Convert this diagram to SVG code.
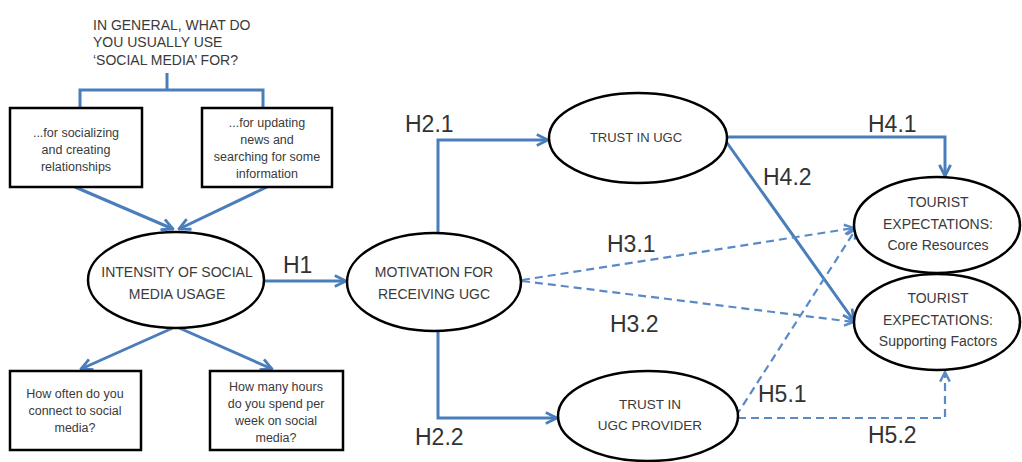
<svg xmlns="http://www.w3.org/2000/svg" width="1022" height="462" viewBox="0 0 1022 462">
<defs>
<style>
.bg{fill:#ffffff}
.node{fill:#ffffff;stroke:#000000;stroke-width:2.5}
.t{font-family:"Liberation Sans",Arial,sans-serif;fill:#3a3a3a;text-anchor:middle}
.e{font-size:14px}
.b{font-size:12.5px}
.title{font-family:"Liberation Sans",Arial,sans-serif;fill:#3a3a3a;font-size:14px}
.h{font-family:"Liberation Sans",Arial,sans-serif;fill:#333333;font-size:23px}
.c{fill:none;stroke:#4a7ebb;stroke-width:3;stroke-linejoin:miter}
.d{fill:none;stroke:#5a8ac6;stroke-width:2.2;stroke-dasharray:8,5}
</style>
<marker id="arr" viewBox="0 0 10 10" refX="9" refY="5" markerWidth="14" markerHeight="14" markerUnits="userSpaceOnUse" orient="auto">
<path d="M1,1 L9,5 L1,9" fill="none" stroke="#4a7ebb" stroke-width="2"/>
</marker>
<marker id="arrd" viewBox="0 0 10 10" refX="9" refY="5" markerWidth="12" markerHeight="12" markerUnits="userSpaceOnUse" orient="auto">
<path d="M1,1 L9,5 L1,9" fill="none" stroke="#5a8ac6" stroke-width="2"/>
</marker>
</defs>
<rect class="bg" x="0" y="0" width="1022" height="462"/>

<g id="connectors">
<path class="c" d="M167,73 V90 M80,108 V90 H263 V108"/>
<path class="c" d="M75,187 L173,229" marker-end="url(#arr)"/>
<path class="c" d="M267,187 L179,229" marker-end="url(#arr)"/>
<path class="c" d="M175,327 L81,369" marker-end="url(#arr)"/>
<path class="c" d="M177,327 L272,369" marker-end="url(#arr)"/>
<path class="c" d="M263,281 H346" marker-end="url(#arr)"/>
<path class="c" d="M438,233 V140 H548" marker-end="url(#arr)"/>
<path class="c" d="M438,331 V418 H557" marker-end="url(#arr)"/>
<path class="c" d="M727,137 H945 V176" marker-end="url(#arr)"/>
<path class="c" d="M725,140 L854,321" marker-end="url(#arr)"/>
<path class="d" d="M522,280 L854,228" marker-end="url(#arrd)"/>
<path class="d" d="M522,281 L854,322" marker-end="url(#arrd)"/>
<path class="d" d="M736,416 L856,229" marker-end="url(#arrd)"/>
<path class="d" d="M738,418 H945 V372" marker-end="url(#arrd)"/>
<text class="h" x="283" y="273">H1</text>
<text class="h" x="405" y="132">H2.1</text>
<text class="h" x="415" y="445">H2.2</text>
<text class="h" x="607" y="252">H3.1</text>
<text class="h" x="610" y="332">H3.2</text>
<text class="h" x="868" y="132">H4.1</text>
<text class="h" x="763" y="185">H4.2</text>
<text class="h" x="758" y="402">H5.1</text>
<text class="h" x="868" y="443">H5.2</text>
</g>

<g id="question">
<text class="title" x="93" y="30">IN GENERAL, WHAT DO</text>
<text class="title" x="93" y="47">YOU USUALLY USE</text>
<text class="title" x="93" y="65">‘SOCIAL MEDIA’ FOR?</text>
</g>

<g id="box-socializing">
<rect class="node" x="10" y="108" width="132" height="79"/>
<text class="t b" x="76" y="137">...for socializing</text>
<text class="t b" x="76" y="154">and creating</text>
<text class="t b" x="76" y="171">relationships</text>
</g>

<g id="box-updating">
<rect class="node" x="202" y="108" width="130" height="79"/>
<text class="t b" x="267" y="127">...for updating</text>
<text class="t b" x="267" y="144">news and</text>
<text class="t b" x="267" y="161">searching for some</text>
<text class="t b" x="267" y="178">information</text>
</g>

<g id="intensity">
<ellipse class="node" cx="176" cy="280" rx="88" ry="48"/>
<text class="t e" x="177" y="277">INTENSITY OF SOCIAL</text>
<text class="t e" x="177" y="299">MEDIA USAGE</text>
</g>

<g id="box-often">
<rect class="node" x="10" y="371" width="131" height="79"/>
<text class="t b" x="75" y="398">How often do you</text>
<text class="t b" x="75" y="415">connect to social</text>
<text class="t b" x="75" y="432">media?</text>
</g>

<g id="box-hours">
<rect class="node" x="210" y="371" width="133" height="79"/>
<text class="t b" x="276" y="391">How many hours</text>
<text class="t b" x="276" y="408">do you spend per</text>
<text class="t b" x="276" y="425">week on social</text>
<text class="t b" x="276" y="442">media?</text>
</g>

<g id="motivation">
<ellipse class="node" cx="434" cy="282" rx="87" ry="49"/>
<text class="t e" x="434" y="277">MOTIVATION FOR</text>
<text class="t e" x="434" y="299">RECEIVING UGC</text>
</g>

<g id="trust-ugc">
<ellipse class="node" cx="638" cy="138" rx="89" ry="45"/>
<text class="t" style="font-size:13px" x="636" y="142">TRUST IN UGC</text>
</g>

<g id="trust-provider">
<ellipse class="node" cx="648" cy="416" rx="90" ry="45"/>
<text class="t" style="font-size:13.5px" x="650" y="409">TRUST IN</text>
<text class="t" style="font-size:13.5px" x="650" y="430">UGC PROVIDER</text>
</g>

<g id="tourist-core">
<ellipse class="node" cx="937" cy="225" rx="83" ry="48"/>
<text class="t e" x="938" y="207">TOURIST</text>
<text class="t e" x="938" y="229">EXPECTATIONS:</text>
<text class="t e" x="938" y="250">Core Resources</text>
</g>

<g id="tourist-supporting">
<ellipse class="node" cx="937" cy="322" rx="83" ry="48"/>
<text class="t e" x="938" y="303">TOURIST</text>
<text class="t e" x="938" y="325">EXPECTATIONS:</text>
<text class="t e" x="938" y="346">Supporting Factors</text>
</g>
</svg>
